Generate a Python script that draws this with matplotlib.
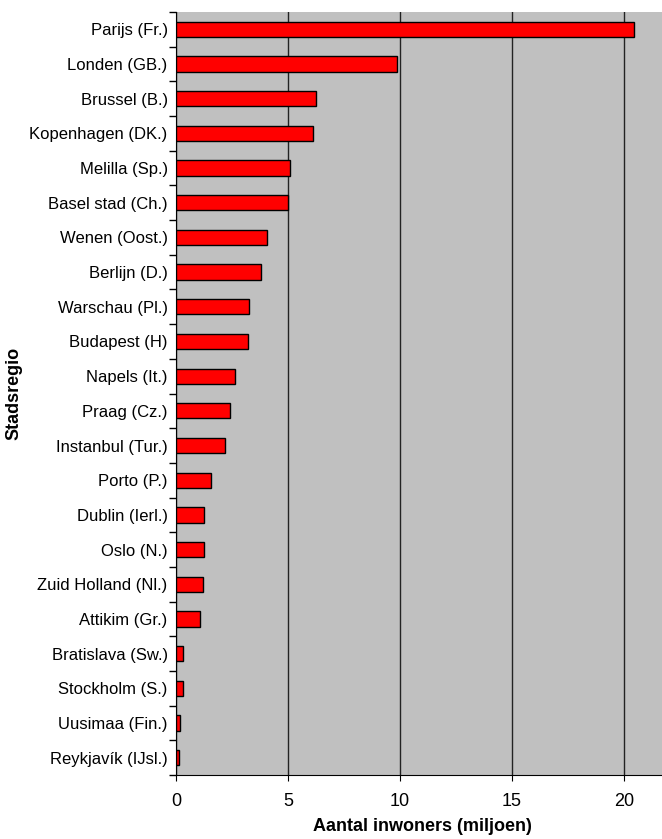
import numpy as np
import matplotlib
matplotlib.use('Agg')
import matplotlib.pyplot as plt

plt.rcParams['font.family'] = ['Liberation Sans', 'DejaVu Sans']

regios = ['Parijs (Fr.)', 'Londen (GB.)', 'Brussel (B.)', 'Kopenhagen (DK.)',
          'Melilla (Sp.)', 'Basel stad (Ch.)', 'Wenen (Oost.)', 'Berlijn (D.)',
          'Warschau (Pl.)', 'Budapest (H)', 'Napels (It.)', 'Praag (Cz.)',
          'Instanbul (Tur.)', 'Porto (P.)', 'Dublin (Ierl.)', 'Oslo (N.)',
          'Zuid Holland (Nl.)', 'Attikim (Gr.)', 'Bratislava (Sw.)',
          'Stockholm (S.)', 'Uusimaa (Fin.)', 'Reykjavík (IJsl.)']
inwoners = [20.45, 9.85, 6.25, 6.1, 5.1, 5.0, 4.07, 3.8, 3.28, 3.23, 2.65,
            2.4, 2.2, 1.58, 1.24, 1.26, 1.2, 1.05, 0.32, 0.32, 0.2, 0.14]

fig = plt.figure(figsize=(6.62, 8.39), dpi=100)
ax = fig.add_axes([176/662, 1 - 775/839, 492.8/662, 763/839])
ax.set_facecolor('#c0c0c0')

y = np.arange(len(regios))[::-1]
ax.barh(y, inwoners, height=0.44, color='#ff0000', edgecolor='black',
        linewidth=1, zorder=3)

ax.set_xlim(0, 22)
ax.set_ylim(-0.5, len(regios) - 0.5)
ax.set_xticks([0, 5, 10, 15, 20])
ax.set_yticks(y)
ax.set_yticklabels(regios, fontsize=12)
ax.set_yticks(np.arange(len(regios) + 1) - 0.5, minor=True)
ax.tick_params(axis='y', which='major', length=0, pad=6)
ax.tick_params(axis='y', which='minor', length=5, width=1, direction='out')
ax.tick_params(axis='x', length=4, labelsize=13, pad=9)
ax.xaxis.grid(True, color='#222222', linewidth=1, zorder=1)
ax.set_axisbelow(True)
for s in ['top', 'right']:
    ax.spines[s].set_visible(False)

ax.set_xlabel('Aantal inwoners (miljoen)', fontsize=13, fontweight='bold', labelpad=6)
ax.set_ylabel('Stadsregio', fontsize=13, fontweight='bold')
ax.yaxis.set_label_coords(-154/492.8, 0.5)

fig.savefig('out.png', dpi=100)
